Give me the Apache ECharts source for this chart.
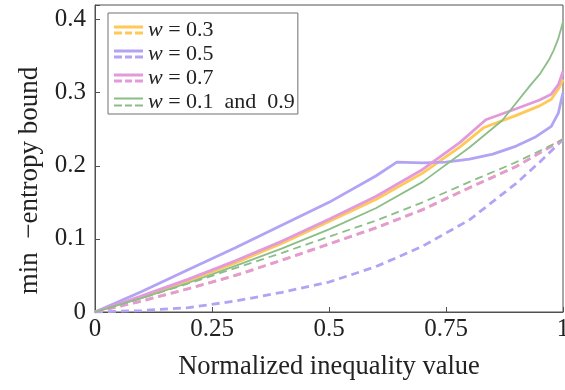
<!DOCTYPE html>
<html>
<head>
<meta charset="utf-8">
<script src="https://cdn.jsdelivr.net/npm/echarts@6/dist/echarts.min.js"></script>
<style>
  html, body {margin: 0; padding: 0; background: #fff;}
  #chart {width: 565px; height: 390px;}
</style>
</head>
<body>
<div id="chart"></div>
<script>
// w = 0.3
const w03SolidX = [0, 0.1, 0.2, 0.3, 0.4, 0.5, 0.6, 0.7, 0.78, 0.83, 0.9, 0.95, 0.975, 0.99, 1];
const w03SolidY = [0, 0.021, 0.043, 0.067, 0.094, 0.124, 0.154, 0.19, 0.226, 0.252, 0.269, 0.282, 0.291, 0.305, 0.318];
// w = 0.5
const w05SolidX = [0, 0.1, 0.2, 0.3, 0.4, 0.5, 0.6, 0.645, 0.7, 0.75, 0.8, 0.85, 0.9, 0.94, 0.975, 0.99, 1];
const w05SolidY = [0, 0.028, 0.058, 0.088, 0.119, 0.150, 0.186, 0.205, 0.204, 0.205, 0.209, 0.216, 0.227, 0.239, 0.254, 0.272, 0.30];
const w05DashX = [0, 0.1, 0.2, 0.3, 0.4, 0.5, 0.6, 0.7, 0.8, 0.9, 0.95, 1];
const w05DashY = [0, 0.002, 0.006, 0.015, 0.027, 0.041, 0.062, 0.09, 0.126, 0.176, 0.205, 0.236];
// w = 0.7
const w07SolidX = [0, 0.1, 0.2, 0.3, 0.4, 0.5, 0.6, 0.7, 0.78, 0.835, 0.9, 0.95, 0.975, 0.99, 1];
const w07SolidY = [0, 0.022, 0.045, 0.070, 0.097, 0.127, 0.158, 0.195, 0.232, 0.263, 0.278, 0.290, 0.298, 0.311, 0.329];
// dashed bound for w = 0.3 and 0.7 (they coincide)
const w37DashX = [0, 0.1, 0.2, 0.3, 0.4, 0.5, 0.6, 0.7, 0.8, 0.9, 1];
const w37DashY = [0, 0.015, 0.032, 0.050, 0.071, 0.093, 0.115, 0.140, 0.170, 0.199, 0.236];
// w = 0.1 and 0.9
const w19SolidX = [0, 0.1, 0.2, 0.3, 0.4, 0.5, 0.6, 0.7, 0.8, 0.87, 0.93, 0.95, 0.97, 0.98, 0.99, 1];
const w19SolidY = [0, 0.019, 0.040, 0.063, 0.087, 0.113, 0.142, 0.178, 0.225, 0.262, 0.31, 0.325, 0.345, 0.358, 0.374, 0.397];
const w19DashX = [0, 0.1, 0.2, 0.3, 0.4, 0.5, 0.6, 0.7, 0.8, 0.9, 1];
const w19DashY = [0, 0.019, 0.039, 0.060, 0.081, 0.103, 0.125, 0.150, 0.178, 0.205, 0.236];

const names = ['w = 0.3', 'w = 0.5', 'w = 0.7', 'w = 0.1  and  0.9'];
const colors = ['#FFC857', '#B3A3F5', '#E29ADB', '#8BBE87'];

const font = '"Liberation Serif", "DejaVu Serif", serif';
const zip = (xs, ys) => xs.map((x, i) => [x, ys[i]]);

const thickIcon = 'path://M0,0H29V3H0Z M0,6H8V9H0Z M11,6H18V9H11Z M21,6H29V9H21Z';
const thinIcon = 'path://M0,0H29V2H0Z M0,7H8V9H0Z M11,7H18V9H11Z M21,7H29V9H21Z';

const line = (name, color, data, dashed, width) => ({
  name, type: 'line', data,
  symbol: 'none',
  color,
  lineStyle: {color, width, type: dashed ? [8, 5] : 'solid'},
  emphasis: {disabled: true},
});

const chart = echarts.init(document.getElementById('chart'));
chart.setOption({
  animation: false,
  grid: {
    left: 95, right: 2, top: 5, bottom: 78,
    outerBoundsMode: 'none', containLabel: false,
    show: true, borderColor: '#505050', borderWidth: 1
  },
  legend: {
    orient: 'vertical', left: 108, top: 13,
    padding: [6, 3, 1, 6], itemGap: 2, itemWidth: 29, itemHeight: 9,
    borderColor: '#707070', borderWidth: 1, backgroundColor: '#fff',
    selectedMode: false,
    textStyle: {
      fontFamily: font, fontSize: 22, color: '#222', lineHeight: 22,
      rich: {i: {fontFamily: font, fontSize: 22, fontStyle: 'italic', color: '#222', lineHeight: 22}}
    },
    formatter: n => n.replace(/^w/, '{i|w}'),
    data: names.map((n, i) => ({name: n, icon: i === 3 ? thinIcon : thickIcon})),
  },
  xAxis: {
    type: 'value', min: 0, max: 1, interval: 0.25,
    name: 'Normalized inequality value', nameLocation: 'middle', nameGap: 42,
    nameTextStyle: {fontFamily: font, fontSize: 26.5, color: '#222'},
    axisLine: {lineStyle: {color: '#505050'}},
    axisTick: {inside: true, length: 5, lineStyle: {color: '#505050'}},
    axisLabel: {fontFamily: font, fontSize: 25, color: '#222', margin: 5, formatter: v => String(v)},
    splitLine: {show: false},
  },
  yAxis: {
    type: 'value', min: 0, max: 0.42, interval: 0.1,
    name: 'min  \u2212entropy bound', nameLocation: 'middle', nameGap: 45,
    nameTextStyle: {fontFamily: font, fontSize: 27, color: '#222', padding: [0, 44, 0, 0]},
    axisLine: {show: true, lineStyle: {color: '#505050'}},
    axisTick: {inside: true, length: 5, lineStyle: {color: '#505050'}},
    axisLabel: {
      fontFamily: font, fontSize: 25, color: '#222', margin: 9,
      formatter: v => Math.abs(v * 10 - Math.round(v * 10)) < 1e-6 ? String(+v.toFixed(1)) : ''
    },
    splitLine: {show: false},
  },
  series: [
    line(names[0], colors[0], zip(w37DashX, w37DashY), true, 2.8),
    line(names[0], colors[0], zip(w03SolidX, w03SolidY), false, 2.8),
    line(names[1], colors[1], zip(w05SolidX, w05SolidY), false, 2.8),
    line(names[1], colors[1], zip(w05DashX, w05DashY), true, 2.8),
    line(names[2], colors[2], zip(w07SolidX, w07SolidY), false, 2.8),
    line(names[2], colors[2], zip(w37DashX, w37DashY), true, 2.8),
    line(names[3], colors[3], zip(w19SolidX, w19SolidY), false, 1.8),
    line(names[3], colors[3], zip(w19DashX, w19DashY), true, 1.8),
  ],
});
</script>
</body>
</html>
